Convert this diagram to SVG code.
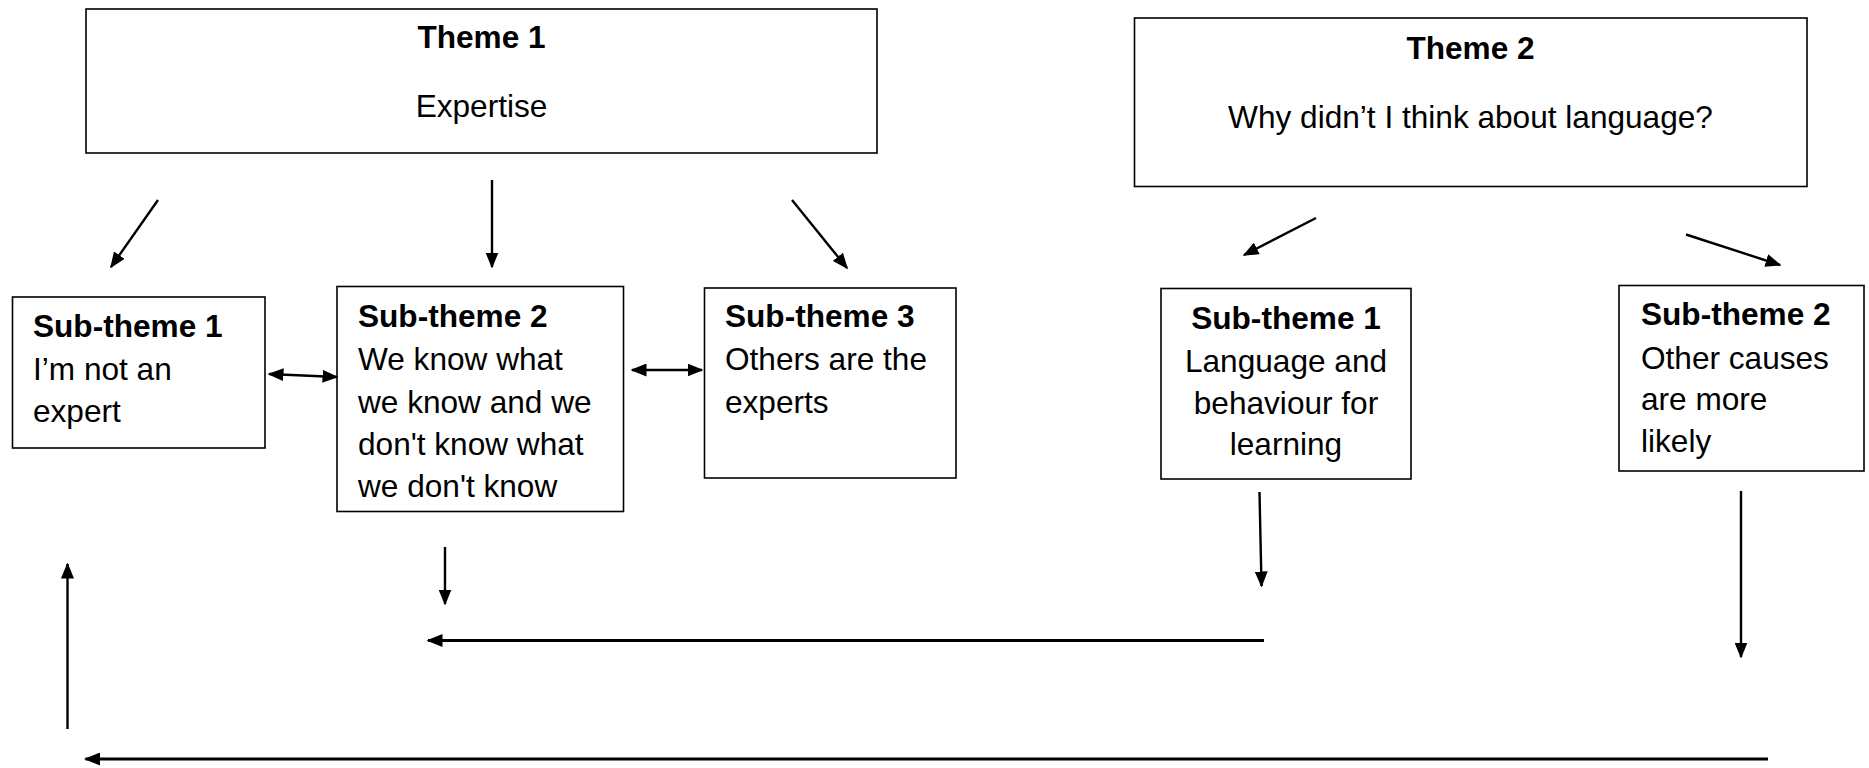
<svg xmlns="http://www.w3.org/2000/svg" width="1869" height="768" viewBox="0 0 1869 768">
  <style>
    .box { fill: #ffffff; stroke: #000000; stroke-width: 1.6; }
    .t { font-family: "Liberation Sans", Arial, sans-serif; font-size: 31.6px; fill: #000000; }
    .b { font-weight: bold; }
    .c { text-anchor: middle; }
    .conn line { stroke: #000000; stroke-width: 2.4; fill: none; }
    .conn line.long { stroke-width: 3; }
  </style>
  <defs>
    <marker id="arrow" viewBox="0 0 16 13" refX="14.5" refY="6.5" markerWidth="16" markerHeight="13" markerUnits="userSpaceOnUse" orient="auto-start-reverse">
      <path d="M0,0 L16,6.5 L0,13 z" fill="#000000"/>
    </marker>
  </defs>

  <rect width="1869" height="768" fill="#ffffff"/>

  <!-- Theme 1 -->
  <g id="theme1">
    <rect class="box" x="86" y="9" width="791" height="144"/>
    <text class="t b c" x="481.5" y="48">Theme 1</text>
    <text class="t c" x="481.5" y="117">Expertise</text>
  </g>

  <!-- Theme 2 -->
  <g id="theme2">
    <rect class="box" x="1134.5" y="18" width="672.5" height="168.5"/>
    <text class="t b c" x="1470.5" y="58.5">Theme 2</text>
    <text class="t c" x="1470.5" y="127.5">Why didn’t I think about language?</text>
  </g>

  <!-- Theme 1 sub-themes -->
  <g id="t1-sub1">
    <rect class="box" x="12.5" y="297" width="252.5" height="151"/>
    <text class="t b" x="33" y="337">Sub-theme 1</text>
    <text class="t" x="33" y="380">I’m not an</text>
    <text class="t" x="33" y="422">expert</text>
  </g>

  <g id="t1-sub2">
    <rect class="box" x="337" y="286.5" width="286.5" height="225"/>
    <text class="t b" x="358" y="327">Sub-theme 2</text>
    <text class="t" x="358" y="370">We know what</text>
    <text class="t" x="358" y="412.5">we know and we</text>
    <text class="t" x="358" y="454.5">don't know what</text>
    <text class="t" x="358" y="497">we don't know</text>
  </g>

  <g id="t1-sub3">
    <rect class="box" x="704.5" y="288" width="251.5" height="190"/>
    <text class="t b" x="725" y="327">Sub-theme 3</text>
    <text class="t" x="725" y="370">Others are the</text>
    <text class="t" x="725" y="413">experts</text>
  </g>

  <!-- Theme 2 sub-themes -->
  <g id="t2-sub1">
    <rect class="box" x="1161" y="288.5" width="250" height="190.5"/>
    <text class="t b c" x="1286" y="328.5">Sub-theme 1</text>
    <text class="t c" x="1286" y="371.5">Language and</text>
    <text class="t c" x="1286" y="413.5">behaviour for</text>
    <text class="t c" x="1286" y="455">learning</text>
  </g>

  <g id="t2-sub2">
    <rect class="box" x="1619" y="285.5" width="245" height="185.5"/>
    <text class="t b" x="1641" y="325">Sub-theme 2</text>
    <text class="t" x="1641" y="368.5">Other causes</text>
    <text class="t" x="1641" y="410">are more</text>
    <text class="t" x="1641" y="452">likely</text>
  </g>

  <!-- Connectors -->
  <g id="connectors" class="conn">
    <line x1="158" y1="200" x2="111" y2="267" marker-end="url(#arrow)"/>
    <line x1="492" y1="180" x2="492" y2="267" marker-end="url(#arrow)"/>
    <line x1="792" y1="200" x2="847" y2="268" marker-end="url(#arrow)"/>
    <line x1="269" y1="374" x2="337" y2="377" marker-start="url(#arrow)" marker-end="url(#arrow)"/>
    <line x1="632" y1="370" x2="702" y2="370" marker-start="url(#arrow)" marker-end="url(#arrow)"/>
    <line x1="1316" y1="218" x2="1244" y2="255" marker-end="url(#arrow)"/>
    <line x1="1686" y1="234.5" x2="1780" y2="265" marker-end="url(#arrow)"/>
    <line x1="1259.5" y1="492" x2="1261.5" y2="586" marker-end="url(#arrow)"/>
    <line x1="1741" y1="491" x2="1741" y2="657" marker-end="url(#arrow)"/>
    <line x1="445" y1="547" x2="445" y2="604" marker-end="url(#arrow)"/>
    <line class="long" x1="1264" y1="640.5" x2="428" y2="640.5" marker-end="url(#arrow)"/>
    <line class="long" x1="1768" y1="759" x2="85.5" y2="759" marker-end="url(#arrow)"/>
    <line x1="67.5" y1="729" x2="67.5" y2="564" marker-end="url(#arrow)"/>
  </g>
</svg>
